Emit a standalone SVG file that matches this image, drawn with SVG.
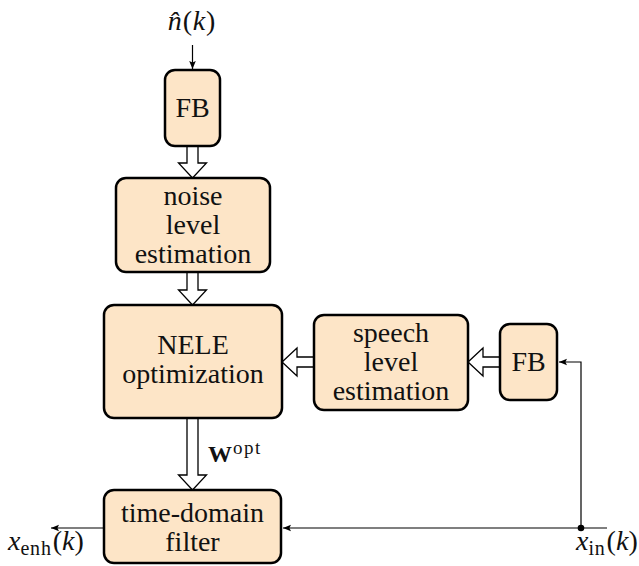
<svg xmlns="http://www.w3.org/2000/svg" width="639" height="566" viewBox="0 0 639 566">
<defs>
<style>
.box{fill:#FDE5C7;stroke:#000;stroke-width:2.5}
.t{font-family:'Liberation Serif','Times New Roman',serif;font-size:28px;fill:#111;text-anchor:middle}
.lbl{font-family:'Liberation Serif','Times New Roman',serif;font-size:28px;fill:#111}
.it{font-style:italic}
.sub{font-size:20px}
.dbl{fill:#fff;stroke:#000;stroke-width:1.3;stroke-linejoin:miter}
.wire{fill:none;stroke:#000;stroke-width:1.2}
</style>
<marker id="ah" markerWidth="9" markerHeight="8" refX="8" refY="4" orient="auto" markerUnits="userSpaceOnUse">
<path d="M0,0.7 L8,4 L0,7.3 L1.6,4 Z" fill="#000"/>
</marker>
</defs>
<rect width="639" height="566" fill="#fff"/>

<g id="connectors">
<line class="wire" x1="192.5" y1="45" x2="192.5" y2="69" marker-end="url(#ah)"/>
<path class="wire" d="M607,528 H283" marker-end="url(#ah)"/>
<path class="wire" d="M581,528 V362 H559" marker-end="url(#ah)"/>
<path class="wire" d="M104,528 H51" marker-end="url(#ah)"/>
<circle cx="581" cy="528" r="3.3" fill="#000"/>
<path class="dbl" d="M187,146 V163 H178.5 L192.5,178 L206.5,163 H198 V146"/>
<path class="dbl" d="M187,272 V290 H178.5 L192.5,305 L206.5,290 H198 V272"/>
<path class="dbl" d="M187,418 V475 H178.5 L192.5,490 L206.5,475 H198 V418"/>
<path class="dbl" d="M314,357 H297 V348 L282,362 L297,376 V367 H314"/>
<path class="dbl" d="M500,357 H483 V348 L468,362 L483,376 V367 H500"/>
</g>

<g id="in-noise">
<text class="t" x="192" y="30" letter-spacing="0.8"><tspan class="it">n̂</tspan>(<tspan class="it">k</tspan>)</text>
</g>

<g id="fb-top">
<rect class="box" x="165" y="70" width="55" height="76" rx="10"/>
<text class="t" x="192.5" y="117">FB</text>
</g>

<g id="noise-level">
<rect class="box" x="116" y="178" width="154" height="94" rx="10"/>
<text class="t" x="193" y="205">noise</text>
<text class="t" x="193" y="234">level</text>
<text class="t" x="193" y="263">estimation</text>
</g>

<g id="nele">
<rect class="box" x="104" y="305" width="178" height="113" rx="10"/>
<text class="t" x="193" y="354">NELE</text>
<text class="t" x="193" y="383">optimization</text>
</g>

<g id="speech-level">
<rect class="box" x="314" y="315" width="154" height="95" rx="10"/>
<text class="t" x="391" y="342">speech</text>
<text class="t" x="391" y="371">level</text>
<text class="t" x="391" y="400">estimation</text>
</g>

<g id="fb-right">
<rect class="box" x="500" y="324" width="57" height="76" rx="10"/>
<text class="t" x="528.5" y="371">FB</text>
</g>

<g id="filter">
<rect class="box" x="104" y="490" width="177" height="73" rx="10"/>
<text class="t" x="192.5" y="522">time-domain</text>
<text class="t" x="192.5" y="551">filter</text>
</g>

<g id="w-opt">
<text class="lbl" x="208" y="462"><tspan font-weight="bold" font-size="24">W</tspan><tspan font-size="19" dy="-8" dx="1" letter-spacing="1.5">opt</tspan></text>
</g>

<g id="out-label">
<text class="lbl" x="8" y="550"><tspan class="it">x</tspan><tspan class="sub" dy="5" letter-spacing="0.8">enh</tspan><tspan dy="-5" dx="1">(</tspan><tspan class="it">k</tspan>)</text>
</g>

<g id="in-label">
<text class="lbl" x="576" y="550"><tspan class="it">x</tspan><tspan class="sub" dy="5" letter-spacing="0.8">in</tspan><tspan dy="-5" dx="1">(</tspan><tspan class="it">k</tspan>)</text>
</g>
</svg>
